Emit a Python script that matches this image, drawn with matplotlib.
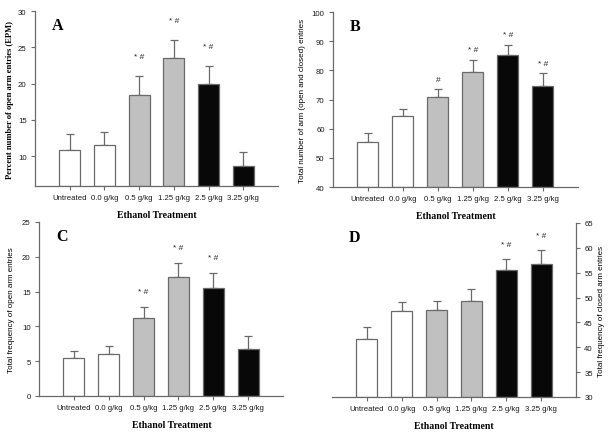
import numpy as np
import matplotlib
matplotlib.use("Agg")
import matplotlib.pyplot as plt

# groups on the x axis
groups = ["Untreated", "0.0 g/kg", "0.5 g/kg", "1.25 g/kg", "2.5 g/kg", "3.25 g/kg"]
bar_colors = ["white", "white", "#c0c0c0", "#c0c0c0", "#080808", "#080808"]

# panel A: percent open arm entries (mean, top of error bar)
a_mean = [10.9, 11.55, 18.4, 23.5, 19.95, 8.65]
a_top = [13.0, 13.3, 21.0, 26.0, 22.4, 10.6]
a_marks = ["", "", "* #", "* #", "* #", ""]

# panel B: total arm entries
b_mean = [55.6, 64.2, 70.7, 79.6, 85.3, 74.5]
b_top = [58.6, 66.6, 73.5, 83.7, 88.8, 79.0]
b_marks = ["", "", "#", "* #", "* #", "* #"]

# panel C: open arm entries
c_mean = [5.4, 6.1, 11.2, 17.05, 15.5, 6.8]
c_top = [6.4, 7.15, 12.85, 19.15, 17.7, 8.6]
c_marks = ["", "", "* #", "* #", "* #", ""]

# panel D: closed arm entries
d_mean = [41.6, 47.3, 47.4, 49.3, 55.6, 56.8]
d_top = [44.0, 49.2, 49.4, 51.8, 57.8, 59.6]
d_marks = ["", "", "", "", "* #", "* #"]

sans = "Liberation Sans"
serif = "Liberation Serif"
gray = "#6a6a6a"

fig = plt.figure(figsize=(6.13, 4.35), dpi=100)


def panel(rect, mean, top, marks, ylim, yticks, ylabel, letter, label_bold=False,
          right=False, ylab_x=-0.1, xlab_x=0.5, mark_off=14):
    ax = fig.add_axes(rect)
    x = np.arange(len(groups))
    mean = np.array(mean)
    top = np.array(top)
    ax.bar(x, mean - ylim[0], bottom=ylim[0], width=0.6, color=bar_colors,
           edgecolor=gray, linewidth=0.9, zorder=2)
    ax.errorbar(x, mean, yerr=[np.zeros(len(x)), top - mean], fmt="none",
                ecolor=gray, elinewidth=0.9, capsize=3.2, capthick=0.9, zorder=1)
    for xi, t, m in zip(x, top, marks):
        if m:
            ax.annotate(m, (xi, t), xytext=(0, mark_off), textcoords="offset pixels",
                        ha="center", va="center", fontsize=6, family=sans, color="#222222")
    ax.set_xlim(-1, 6)
    ax.set_ylim(*ylim)
    ax.set_yticks(yticks)
    ax.set_xticks(x)
    ax.set_xticklabels(groups)
    ax.spines["top"].set_visible(False)
    if right:
        ax.spines["left"].set_visible(False)
        ax.yaxis.tick_right()
        ax.yaxis.set_label_position("right")
    else:
        ax.spines["right"].set_visible(False)
    for s in ax.spines.values():
        s.set_color(gray)
        s.set_linewidth(0.9)
    ax.tick_params(axis="both", length=3, width=0.8, color=gray, labelsize=5.6,
                   labelcolor="#1a1a1a", pad=3)
    for lab in ax.get_xticklabels() + ax.get_yticklabels():
        lab.set_family(sans)
    if label_bold:
        ax.set_ylabel(ylabel, family=serif, fontweight="bold", fontsize=6.1)
    else:
        ax.set_ylabel(ylabel, family=sans, fontsize=5.8)
    ax.yaxis.set_label_coords(ylab_x, 0.5)
    ax.set_xlabel("Ethanol Treatment", family=serif, fontweight="bold", fontsize=7)
    ax.xaxis.set_label_coords(xlab_x, -0.137)
    ax.text(0.07, 0.92, letter, transform=ax.transAxes, family=serif,
            fontweight="bold", fontsize=11.5, ha="left", va="center")
    return ax


panel([0.0571, 0.5701, 0.3964, 0.4023], a_mean, a_top, a_marks, (5.9, 30),
      [10, 15, 20, 25, 30], "Percent number of open arm entries (EPM)", "A",
      label_bold=True, ylab_x=-0.088, mark_off=20)
panel([0.5432, 0.5678, 0.3997, 0.4023], b_mean, b_top, b_marks, (40, 100),
      [40, 50, 60, 70, 80, 90, 100], "Total number of arm (open and closed) entries", "B",
      ylab_x=-0.11, mark_off=10)
panel([0.0636, 0.0874, 0.3981, 0.4000], c_mean, c_top, c_marks, (0, 25),
      [0, 5, 10, 15, 20, 25], "Total frequency of open arm entries", "C",
      ylab_x=-0.098, xlab_x=0.545, mark_off=15)
panel([0.5416, 0.0851, 0.3980, 0.4000], d_mean, d_top, d_marks, (30, 65),
      [30, 35, 40, 45, 50, 55, 60, 65], "Total frequency of closed arm entries", "D",
      right=True, ylab_x=1.09, mark_off=14)

fig.savefig("out.png", dpi=100)
